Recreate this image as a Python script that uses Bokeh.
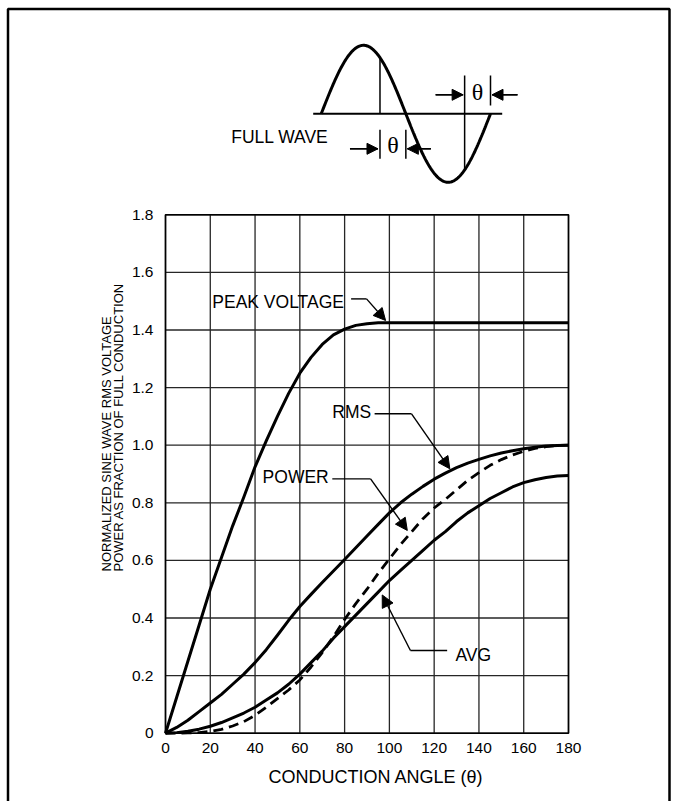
import numpy as np
from bokeh.plotting import figure
from bokeh.models import Range1d, FixedTicker, Arrow, NormalHead, PrintfTickFormatter
from bokeh.core.properties import value
from bokeh.embed import file_html
from bokeh.resources import INLINE

# ---------------- data ----------------
angle_deg = [0, 5, 10, 15, 20, 25, 30, 35, 40, 45, 50, 55, 60, 65, 70, 75, 80, 85, 90,
             95, 100, 105, 110, 115, 120, 125, 130, 135, 140, 145, 150, 155, 160, 165,
             170, 175, 180]
peak_voltage = [0, 0.125, 0.25, 0.375, 0.50, 0.61, 0.72, 0.82, 0.925, 1.015, 1.10, 1.18,
                1.25, 1.305, 1.35, 1.383, 1.403, 1.416, 1.422, 1.425, 1.425, 1.425, 1.425,
                1.425, 1.425, 1.425, 1.425, 1.425, 1.425, 1.425, 1.425, 1.425, 1.425,
                1.425, 1.425, 1.425, 1.425]
rms_voltage = [0, 0.02, 0.045, 0.075, 0.105, 0.135, 0.17, 0.205, 0.245, 0.29, 0.34, 0.392,
               0.44, 0.482, 0.523, 0.563, 0.603, 0.644, 0.685, 0.725, 0.765, 0.80, 0.83,
               0.857, 0.882, 0.903, 0.922, 0.938, 0.951, 0.963, 0.973, 0.981, 0.988,
               0.993, 0.997, 0.999, 1.0]
power = [0, 0, 0.001, 0.002, 0.006, 0.013, 0.025, 0.04, 0.062, 0.09, 0.12, 0.15, 0.185,
         0.23, 0.28, 0.335, 0.395, 0.45, 0.50, 0.555, 0.605, 0.655, 0.70, 0.745, 0.782,
         0.812, 0.845, 0.878, 0.905, 0.93, 0.95, 0.966, 0.979, 0.989, 0.995, 0.999, 1.0]
avg_voltage = [0, 0.002, 0.007, 0.014, 0.024, 0.037, 0.053, 0.07, 0.09, 0.115, 0.14, 0.17,
               0.205, 0.245, 0.285, 0.33, 0.37, 0.41, 0.45, 0.49, 0.53, 0.565, 0.60, 0.635,
               0.67, 0.70, 0.735, 0.765, 0.79, 0.815, 0.835, 0.855, 0.87, 0.88, 0.888,
               0.893, 0.895]

x_ticks = [0, 20, 40, 60, 80, 100, 120, 140, 160, 180]
y_ticks = [0, 0.2, 0.4, 0.6, 0.8, 1.0, 1.2, 1.4, 1.6, 1.8]
y_tick_labels = ["0", "0.2", "0.4", "0.6", "0.8", "1.0", "1.2", "1.4", "1.6", "1.8"]

x_title = "CONDUCTION ANGLE (θ)"
y_title_lines = ["NORMALIZED SINE WAVE RMS VOLTAGE", "POWER AS FRACTION OF FULL CONDUCTION"]

# ---------------- layout ----------------
FONT = "Liberation Sans"
W, H = 672, 801
PAGE_L, PAGE_T = 0, 0
X0_PX, X1_PX = 165.0, 568.0    # x pixel of first / last x tick
Y0_PX, Y1_PX = 732.7, 214.3    # y pixel of first / last y tick
sx = (X1_PX - X0_PX) / (x_ticks[-1] - x_ticks[0])
sy = (Y0_PX - Y1_PX) / (y_ticks[-1] - y_ticks[0])
x_range = Range1d(x_ticks[0] - (X0_PX - PAGE_L) / sx, x_ticks[0] + (PAGE_L + W - X0_PX) / sx)
y_range = Range1d(y_ticks[0] - (PAGE_T + H - Y0_PX) / sy, y_ticks[0] + (Y0_PX - PAGE_T) / sy)

p = figure(width=W, height=H, x_range=x_range, y_range=y_range,
           output_backend="svg", toolbar_location=None, min_border=0)
p.min_border_left = p.min_border_right = p.min_border_top = p.min_border_bottom = 0
p.extra_x_ranges = {"px": Range1d(PAGE_L, PAGE_L + W)}
p.extra_y_ranges = {"py": Range1d(PAGE_T + H, PAGE_T)}
p.outline_line_color = None
p.grid.visible = False
p.background_fill_color = "white"
p.border_fill_color = "white"

# axes placed at the data origin
for ax in (p.xaxis[0], p.yaxis[0]):
    ax.fixed_location = 0
    ax.axis_line_color = None
    ax.major_tick_line_color = None
    ax.minor_tick_line_color = None
    ax.major_tick_in = 0
    ax.major_tick_out = 0
    ax.minor_tick_in = 0
    ax.minor_tick_out = 0
    ax.major_label_text_font = FONT
    ax.major_label_text_font_size = "15.5px"
    ax.major_label_text_color = "black"

p.xaxis.ticker = FixedTicker(ticks=x_ticks)
p.xaxis.bounds = (x_ticks[0], x_ticks[-1] + 8)
p.xaxis.major_label_standoff = 10
p.xaxis.axis_label = x_title
p.xaxis.axis_label_text_font = FONT
p.xaxis.axis_label_text_font_size = "18px"
p.xaxis.axis_label_text_font_style = "normal"
p.xaxis.axis_label_text_color = "black"
p.xaxis.axis_label_standoff = 10

p.yaxis.ticker = FixedTicker(ticks=y_ticks)
p.yaxis.bounds = (y_ticks[0], y_ticks[-1])
p.yaxis.formatter = PrintfTickFormatter(format="%.1f")
p.yaxis.major_label_overrides = {t: l for t, l in zip(y_ticks, y_tick_labels)}
p.yaxis.major_label_standoff = 12

# grid lines (inside the chart box only)
nx, ny = len(x_ticks), len(y_ticks)
p.segment(x0=x_ticks, y0=[y_ticks[0]] * nx, x1=x_ticks, y1=[y_ticks[-1]] * nx,
          line_color="#262626", line_width=1.3)
p.segment(x0=[x_ticks[0]] * ny, y0=y_ticks, x1=[x_ticks[-1]] * ny, y1=y_ticks,
          line_color="#262626", line_width=1.3)
p.quad(left=x_ticks[0], right=x_ticks[-1], bottom=y_ticks[0], top=y_ticks[-1],
       fill_color=None, line_color="black", line_width=1.6)

# curves
p.line(angle_deg, peak_voltage, line_color="black", line_width=3, line_join="round")
p.line(angle_deg, rms_voltage, line_color="black", line_width=3, line_join="round")
p.line(angle_deg, avg_voltage, line_color="black", line_width=3, line_join="round")
p.line(angle_deg, power, line_color="black", line_width=2.8, line_dash="10 6")

# y title (two rotated lines)
p.text(x=[105.5, 118.0], y=[571, 571], text=y_title_lines, angle=np.pi / 2,
       text_align="left", text_baseline="middle", text_font=value(FONT),
       text_font_size="13px", text_color="black",
       x_range_name="px", y_range_name="py")

# ---------------- curve call-outs ----------------
def leader(xs, ys, head=12):
    p.line(xs[:-1], ys[:-1], line_color="black", line_width=1.4)
    p.add_layout(Arrow(end=NormalHead(size=head, fill_color="black", line_color="black",
                                      line_width=1),
                       x_start=xs[-2], y_start=ys[-2], x_end=xs[-1], y_end=ys[-1],
                       line_color="black", line_width=1.4))

callouts = [
    dict(text="PEAK VOLTAGE", tx=20.9, ty=1.497, align="left",
         xs=[82.9, 89.8, 98.3], ys=[1.508, 1.508, 1.433]),
    dict(text="RMS", tx=74.5, ty=1.115, align="left",
         xs=[93.4, 109.9, 127.0], ys=[1.109, 1.109, 0.918]),
    dict(text="POWER", tx=72.9, ty=0.889, align="right",
         xs=[74.5, 91.6, 108.0], ys=[0.883, 0.883, 0.704]),
    dict(text="AVG", tx=129.5, ty=0.270, align="left",
         xs=[125.8, 109.4, 96.8], ys=[0.287, 0.287, 0.480]),
]
for c in callouts:
    p.text(x=[c["tx"]], y=[c["ty"]], text=[c["text"]], text_align=c["align"],
           text_baseline="middle", text_font=value(FONT), text_font_size="17.5px",
           text_color="black")
    leader(c["xs"], c["ys"])

# ---------------- inset: full-wave sketch (pixel units) ----------------
WAVE_X0, WAVE_PERIOD, WAVE_AMP, WAVE_Y = 320.7, 169.3, 68.5, 113.3
FIRE_PHASE = 125.0  # degrees where conduction starts in each half cycle

def wave_y(x):
    return WAVE_Y - WAVE_AMP * np.sin(2 * np.pi * (x - WAVE_X0) / WAVE_PERIOD)

tt = np.linspace(0, 1, 240)
wx = WAVE_X0 + WAVE_PERIOD * tt
P = dict(x_range_name="px", y_range_name="py")
p.line([312.7, 501.7], [WAVE_Y, WAVE_Y], line_color="black", line_width=2, **P)
p.line(wx, wave_y(wx), line_color="black", line_width=3, **P)

fire1 = WAVE_X0 + WAVE_PERIOD * FIRE_PHASE / 360
end1 = WAVE_X0 + WAVE_PERIOD / 2
fire2 = WAVE_X0 + WAVE_PERIOD * (FIRE_PHASE + 180) / 360
end2 = WAVE_X0 + WAVE_PERIOD

# firing lines
p.segment(x0=[fire1, fire2], y0=[WAVE_Y, 75], x1=[fire1, fire2],
          y1=[wave_y(fire1), wave_y(fire2)], line_color="black", line_width=1.5, **P)
# theta bars
p.segment(x0=[fire1, end1, end2], y0=[129.3, 129.3, 75], x1=[fire1, end1, end2],
          y1=[158.3, 158.3, 105], line_color="black", line_width=1.5, **P)

theta_kw = dict(text_align="center", text_baseline="middle",
                text_font=value("Liberation Serif"), text_font_size="24px",
                text_color="black", **P)
p.text(x=[(fire1 + end1) / 2, (fire2 + end2) / 2], y=[144, 91], text=["θ", "θ"], **theta_kw)

for (xa, xb, yy) in [(fire1 - 30, fire1 - 2, 148.3), (end1 + 25, end1 + 1.5, 148.3),
                     (fire2 - 29, fire2 - 1.5, 94.3), (end2 + 27, end2 + 1.5, 94.3)]:
    p.line([xa, xb], [yy, yy], line_color="black", line_width=1.5, **P)
    p.add_layout(Arrow(end=NormalHead(size=11, fill_color="black", line_color="black",
                                      line_width=1),
                       x_start=xa, y_start=yy, x_end=xb, y_end=yy,
                       line_color="black", line_width=1.5, **P))

p.text(x=[230.7], y=[136], text=["FULL WAVE"], text_align="left", text_baseline="middle",
       text_font=value(FONT), text_font_size="17.5px", text_color="black", **P)

# outer frame (top, left, right)
p.line([7.5, 7.5, 669, 669], [PAGE_T + H, 8.5, 8.5, PAGE_T + H],
       line_color="black", line_width=2.5, **P)

open("out.html", "w").write(file_html(p, INLINE))
